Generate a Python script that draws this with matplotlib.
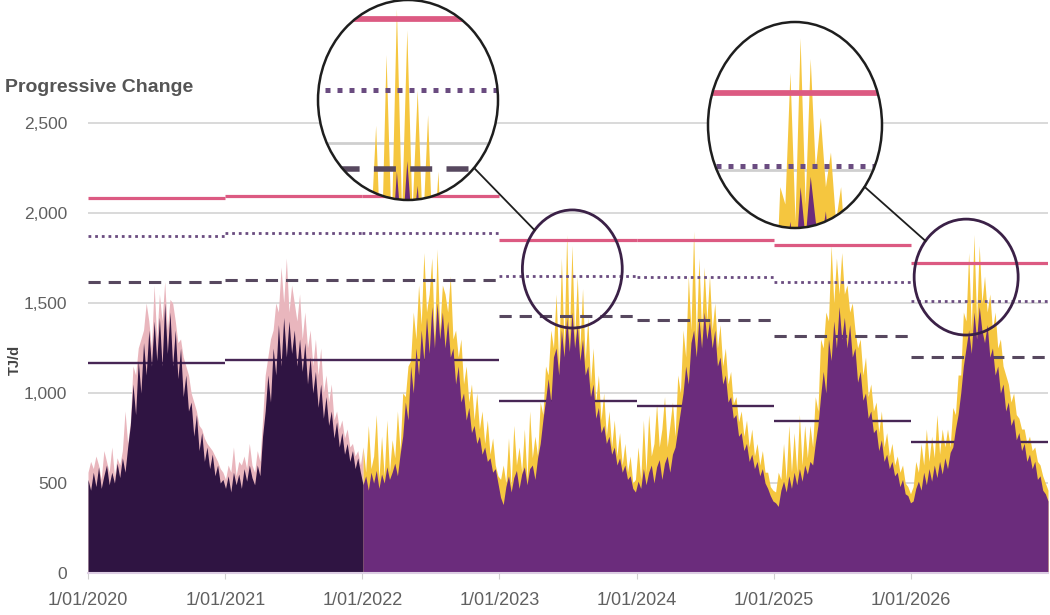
import matplotlib

matplotlib.use("Agg")

import matplotlib.dates as mdates
import matplotlib.pyplot as plt
import numpy as np
import pandas as pd
from matplotlib.lines import Line2D
from matplotlib.patches import Ellipse

plt.rcParams["font.family"] = ["Liberation Sans", "DejaVu Sans"]

# ---------------------------------------------------------------------------
# Data (weekly readings, 52 per year, TJ/d)
# ---------------------------------------------------------------------------

years = [2020, 2021, 2022, 2023, 2024, 2025, 2026]

# historical demand (dark fill) and its upper spikes (pale pink)
hist_2020 = [520, 460, 560, 480, 590, 470, 540, 600, 490, 560, 500, 610, 530,
             640, 560, 700, 820, 1050, 880, 1180, 1000, 1280, 1100, 1350, 1150, 1400,
             1180, 1420, 1150, 1500, 1220, 1450, 1150, 1350, 1080, 1250, 980, 1100, 900,
             950, 760, 880, 680, 780, 620, 700, 580, 660, 540, 600, 500, 520]
hist_hi_2020 = [560, 620, 580, 650, 600, 520, 680, 620, 560, 700, 540, 640, 600,
                680, 900, 720, 840, 1150, 1100, 1250, 1300, 1350, 1500, 1400, 1250, 1600,
                1300, 1550, 1400, 1620, 1350, 1520, 1500, 1400, 1280, 1300, 1200, 1150, 1100,
                1000, 950, 900, 820, 800, 750, 720, 700, 680, 650, 620, 580, 560]
hist_2021 = [470, 540, 450, 560, 490, 550, 470, 580, 510, 600, 530, 490, 600,
             540, 760, 900, 1100, 950, 1250, 1100, 1380, 1150, 1420, 1200, 1400, 1220,
             1350, 1150, 1300, 1120, 1280, 1050, 1200, 1000, 1120, 920, 1050, 860, 980,
             820, 900, 750, 840, 700, 780, 660, 720, 620, 680, 580, 640, 560]
hist_hi_2021 = [520, 600, 560, 700, 540, 620, 600, 650, 580, 720, 600, 560, 680,
                620, 850, 1100, 1200, 1300, 1350, 1500, 1450, 1700, 1500, 1750, 1450, 1600,
                1500, 1400, 1550, 1300, 1450, 1250, 1350, 1150, 1300, 1100, 1250, 1000, 1100,
                950, 1050, 850, 900, 800, 850, 750, 800, 700, 720, 650, 680, 600]

# projected demand (purple fill) and upper range spikes (yellow)
base_2022 = [490, 540, 460, 560, 500, 570, 470, 550, 500, 590, 520, 560, 610,
             540, 660, 760, 950, 850, 1150, 1000, 1250, 1100, 1350, 1180, 1420, 1220,
             1480, 1250, 1500, 1300, 1450, 1250, 1400, 1200, 1250, 1050, 1150, 950, 1000,
             850, 920, 780, 820, 720, 760, 660, 700, 620, 640, 560, 580, 500]
high_2022 = [700, 560, 820, 580, 650, 880, 520, 760, 540, 850, 560, 740, 640,
             900, 680, 1000, 980, 1150, 1180, 1450, 1300, 1600, 1380, 1780, 1450, 1550,
             1750, 1300, 1800, 1350, 1600, 1550, 1450, 1650, 1300, 1350, 1200, 1300, 1050,
             1150, 950, 1050, 850, 1000, 800, 900, 720, 850, 660, 750, 600, 540]
base_2023 = [420, 380, 480, 540, 450, 530, 570, 470, 550, 590, 490, 580, 600,
             520, 640, 720, 850, 960, 1080, 950, 1200, 1250, 1100, 1350, 1200, 1420,
             1230, 1450, 1250, 1380, 1180, 1300, 1100, 1150, 980, 1050, 860, 920, 780,
             820, 720, 760, 660, 700, 600, 640, 560, 600, 520, 540, 470, 450]
high_2023 = [520, 600, 500, 750, 480, 820, 600, 700, 560, 800, 520, 900, 640,
             760, 650, 950, 880, 1150, 1100, 1350, 1250, 1550, 1150, 1750, 1250, 1880,
             1300, 1820, 1300, 1650, 1250, 1580, 1180, 1420, 1050, 1250, 950, 1100, 850,
             1000, 760, 900, 700, 850, 650, 780, 600, 720, 560, 650, 500, 520]
base_2024 = [510, 470, 580, 490, 560, 600, 500, 590, 630, 520, 610, 650, 560,
             660, 700, 800, 900, 1000, 1150, 1050, 1280, 1350, 1200, 1420, 1250, 1450,
             1300, 1400, 1250, 1350, 1150, 1200, 1050, 1100, 950, 980, 860, 880, 760,
             780, 680, 720, 620, 660, 580, 620, 540, 580, 500, 470, 430, 400]
high_2024 = [700, 520, 850, 560, 880, 650, 720, 940, 700, 800, 980, 700, 820,
             950, 760, 1100, 1000, 1350, 1200, 1650, 1350, 1900, 1300, 1750, 1350, 1700,
             1400, 1650, 1350, 1500, 1250, 1380, 1150, 1250, 1050, 1120, 940, 980, 840,
             900, 760, 850, 700, 800, 650, 720, 600, 680, 560, 560, 480, 460]
base_2025 = [390, 370, 460, 510, 450, 540, 470, 560, 490, 580, 510, 600, 550,
             620, 600, 720, 820, 980, 1120, 1000, 1300, 1180, 1400, 1250, 1480, 1300,
             1420, 1250, 1380, 1200, 1250, 1060, 1120, 960, 1000, 860, 900, 780, 800,
             680, 740, 620, 660, 580, 620, 540, 560, 480, 520, 440, 430, 390]
high_2025 = [450, 560, 520, 720, 520, 820, 560, 780, 560, 880, 600, 820, 640,
             820, 700, 980, 900, 1300, 1250, 1450, 1400, 1820, 1500, 1750, 1550, 1780,
             1550, 1600, 1450, 1500, 1350, 1250, 1300, 1100, 1200, 980, 1050, 900, 950,
             780, 900, 700, 780, 650, 720, 600, 650, 560, 600, 500, 480, 440]
base_2026 = [400, 470, 510, 460, 560, 490, 580, 510, 600, 530, 620, 550, 640,
             580, 670, 700, 800, 880, 1000, 1150, 1250, 1350, 1220, 1450, 1300, 1480,
             1350, 1280, 1380, 1200, 1250, 1100, 1150, 1000, 1050, 900, 950, 820, 860,
             740, 780, 680, 720, 620, 660, 580, 620, 520, 540, 460, 440, 400]
high_2026 = [480, 620, 560, 720, 600, 800, 620, 760, 640, 880, 660, 800, 700,
             800, 700, 920, 880, 1100, 1100, 1450, 1400, 1780, 1350, 1880, 1400, 1820,
             1500, 1650, 1450, 1550, 1350, 1450, 1250, 1300, 1150, 1100, 1050, 950, 1000,
             880, 860, 800, 800, 720, 760, 680, 700, 620, 600, 540, 500, 460]

# annual reference levels (one value per year)
level_pink = [2083, 2094, 2094, 1852, 1852, 1822, 1722]
level_dotted = [1870, 1889, 1889, 1650, 1644, 1617, 1511]
level_dashed = [1617, 1628, 1628, 1428, 1405, 1317, 1200]
level_solid = [1167, 1183, 1183, 955, 928, 844, 728]

y_ticks = [0, 500, 1000, 1500, 2000, 2500]
x_tick_labels = [f"1/01/{y}" for y in years]

# ---------------------------------------------------------------------------
# Styling
# ---------------------------------------------------------------------------

C_DARK = "#2f1442"
C_PURPLE = "#6b2c7c"
C_YELLOW = "#f5c63f"
C_PINK_SPIKE = "#e9b6bd"
C_PINK = "#dc5a82"
C_DOT = "#6a4c80"
C_DASH = "#57485f"
C_SOLID = "#472655"
C_GRID = "#cfcfcf"

W, H = 1050, 615

base = np.array(hist_2020 + hist_2021 + base_2022 + base_2023 + base_2024 + base_2025 + base_2026, float)
upper = np.array(hist_hi_2020 + hist_hi_2021 + high_2022 + high_2023 + high_2024 + high_2025 + high_2026, float)
dates = mdates.date2num(pd.date_range("2020-01-01", "2027-01-01", periods=len(base)).to_pydatetime())
split = 2 * 52  # first projected week
year_start = [mdates.date2num(pd.Timestamp(f"{y}-01-01")) for y in years + [2027]]


def draw_layers(a, scale=1.0, clip=None):
    arts = []
    for g in y_ticks[1:]:
        arts.append(a.axhline(g, color=C_GRID, lw=1.1 * scale, zorder=0.5))
    arts.append(a.fill_between(dates[:split + 1], 0, upper[:split + 1], color=C_PINK_SPIKE, lw=0, zorder=1))
    arts.append(a.fill_between(dates[split:], 0, upper[split:], color=C_YELLOW, lw=0, zorder=1))
    styles = [
        (level_solid, C_SOLID, "-", 1.7),
        (level_dashed, C_DASH, (0, (4, 2.6)), 2.2),
        (level_dotted, C_DOT, (0, (1, 1.4)), 2.0),
    ]
    for levels, col, ls, lw in styles:
        arts.append(a.hlines(levels, year_start[:-1], year_start[1:], colors=col,
                             linestyles=ls, lw=lw * scale, zorder=1.5))
    arts.append(a.fill_between(dates[:split + 1], 0, base[:split + 1], color=C_DARK, lw=0, zorder=2))
    arts.append(a.fill_between(dates[split:], 0, base[split:], color=C_PURPLE, lw=0, zorder=2))
    arts.append(a.hlines(level_pink, year_start[:-1], year_start[1:], colors=C_PINK,
                         lw=2.3 * scale, zorder=3))
    if clip is not None:
        for art in arts:
            art.set_clip_path(clip)
    return arts


fig = plt.figure(figsize=(W / 100, H / 100), dpi=100)
ax = fig.add_axes([88 / W, (H - 573) / H, 960 / W, 468 / H])
draw_layers(ax)

ax.set_xlim(year_start[0], year_start[-1])
ax.set_ylim(0, 2600)
ax.set_xticks(year_start[:-1])
ax.set_xticklabels(x_tick_labels)
ax.set_yticks(y_ticks)
ax.set_yticklabels([f"{v:,}" for v in y_ticks])
ax.tick_params(axis="x", length=4, color="#d0d0d0", pad=10, labelsize=13, labelcolor="#606060")
ax.tick_params(axis="y", length=0, pad=15, labelsize=12.5, labelcolor="#606060")
for side in ("top", "right", "left"):
    ax.spines[side].set_visible(False)
ax.spines["bottom"].set_color("#dccde3")
ax.spines["bottom"].set_linewidth(1.5)
ax.spines["bottom"].set_zorder(4)

fig.text(5 / W, 1 - 87 / H, "Progressive Change", ha="left", va="center",
         fontsize=14, fontweight="bold", color="#555555")
fig.text(15 / W, 1 - 360 / H, "TJ/d", ha="center", va="center", rotation=90,
         fontsize=10.5, fontweight="bold", color="#444444")

# ---------------------------------------------------------------------------
# Magnified callouts
# ---------------------------------------------------------------------------

callouts = [
    # big circle centre/radii (px), small circle centre (date, value) and size (days, TJ/d), zoom window
    dict(big=(408, 100, 90, 100), small=("2023-07-14", 1689, 266, 656),
         xwin=("2023-07-14", 122), ywin=(1340, 1906)),
    dict(big=(795, 125, 87, 103), small=("2026-05-28", 1644, 277, 644),
         xwin=("2026-06-10", 121), ywin=(1332, 1927)),
]

for co in callouts:
    cx, cy, rx, ry = co["big"]
    ax_in = fig.add_axes([(cx - rx) / W, 1 - (cy + ry) / H, 2 * rx / W, 2 * ry / H], zorder=5)
    ax_in.axis("off")
    face = Ellipse((0.5, 0.5), 1, 1, transform=ax_in.transAxes, facecolor="white",
                   edgecolor="none", zorder=0)
    ax_in.add_patch(face)
    draw_layers(ax_in, scale=1.8, clip=face)
    xc = mdates.date2num(pd.Timestamp(co["xwin"][0]))
    ax_in.set_xlim(xc - co["xwin"][1], xc + co["xwin"][1])
    ax_in.set_ylim(*co["ywin"])
    ax_in.add_patch(Ellipse((0.5, 0.5), 1, 1, transform=ax_in.transAxes, fill=False,
                            edgecolor="#1e1e1e", lw=1.8, zorder=10, clip_on=False))

    sd, sv, sw, sh = co["small"]
    sx = mdates.date2num(pd.Timestamp(sd))
    ax.add_patch(Ellipse((sx, sv), sw, sh, fill=False, edgecolor="#3b2147", lw=2.0,
                         zorder=6, clip_on=False))

    # connector along the line joining both centres, from rim to rim
    px_s = ax.transData.transform((sx, sv))
    px_b = np.array([cx, H - cy], float)
    d = px_s - px_b
    d = d / np.hypot(*d)
    srx = abs(ax.transData.transform((sx + sw / 2, sv))[0] - px_s[0])
    sry = abs(ax.transData.transform((sx, sv + sh / 2))[1] - px_s[1])
    t_big = 1 / np.sqrt((d[0] / rx) ** 2 + (d[1] / ry) ** 2)
    t_small = 1 / np.sqrt((d[0] / srx) ** 2 + (d[1] / sry) ** 2)
    p0 = px_b + d * t_big
    p1 = px_s - d * t_small
    fig.add_artist(Line2D([p0[0] / W, p1[0] / W], [p0[1] / H, p1[1] / H],
                          transform=fig.transFigure, color="#1e1e1e", lw=1.3, zorder=6))

fig.savefig("out.png", dpi=100)
plt.close(fig)
